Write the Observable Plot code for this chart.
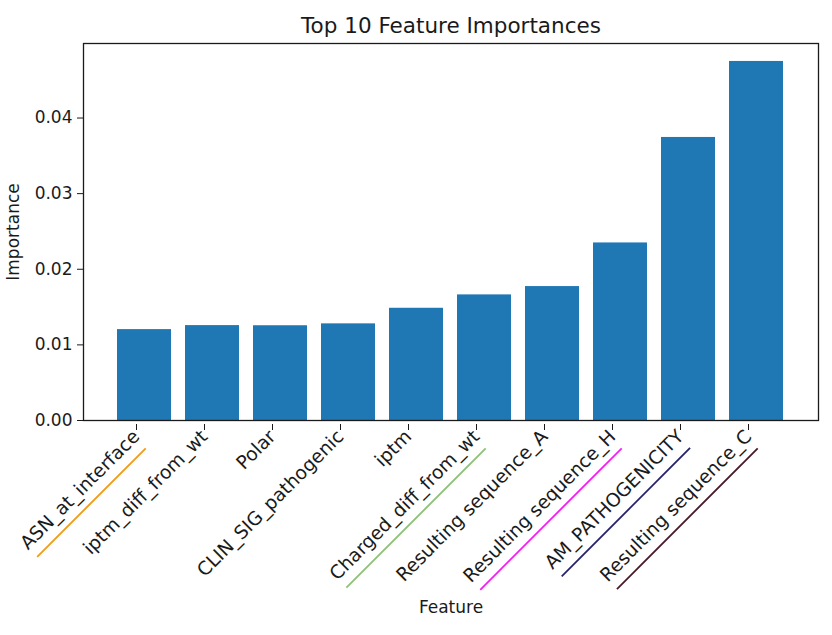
<!DOCTYPE html>
<html>
<head>
<meta charset="utf-8">
<script src="https://cdn.jsdelivr.net/npm/d3@7"></script>
<script src="https://cdn.jsdelivr.net/npm/@observablehq/plot@0.6"></script>
<style>
  html, body { margin: 0; padding: 0; background: #fff; }
</style>
</head>
<body>
<div id="chart"></div>
<script>
const features = [
  "ASN_at_interface",
  "iptm_diff_from_wt",
  "Polar",
  "CLIN_SIG_pathogenic",
  "iptm",
  "Charged_diff_from_wt",
  "Resulting sequence_A",
  "Resulting sequence_H",
  "AM_PATHOGENICITY",
  "Resulting sequence_C"
];
const importances = [0.01202, 0.01255, 0.01253, 0.01278, 0.01484, 0.01661, 0.01771, 0.02348, 0.03743, 0.04748];
const yTicks = [0, 0.01, 0.02, 0.03, 0.04];
const underlinedFeatures = ["ASN_at_interface", "Charged_diff_from_wt", "Resulting sequence_H", "AM_PATHOGENICITY", "Resulting sequence_C"];
const underlineColors = ["#f29a12", "#8cc176", "#f21ef2", "#25226e", "#461a28"];
const titleText = "Top 10 Feature Importances";

const data = features.map((f, i) => ({feature: f, importance: importances[i]}));
const yMax = d3.max(importances) * 1.05;

const chart = Plot.plot({
  width: 832,
  height: 635,
  marginLeft: 83,
  marginRight: 14,
  marginTop: 43,
  marginBottom: 215,
  style: {fontFamily: "'DejaVu Sans', sans-serif", fontSize: "17px", color: "#1a1a1a", background: "#fff"},
  x: {domain: features, paddingInner: 0.2, paddingOuter: 0.49},
  y: {domain: [0, yMax]},
  marks: [
    Plot.barY(data, {x: "feature", y: "importance", fill: "#1f77b4"}),
    Plot.frame({stroke: "#1a1a1a", strokeWidth: 1.3}),
    Plot.axisY({
      ticks: yTicks, tickFormat: d3.format(".2f"), tickSize: 6, tickPadding: 5,
      fontSize: 17,
      label: "Importance", labelAnchor: "center", labelArrow: "none", labelOffset: 77
    }),
    Plot.axisX({
      tickSize: 6, tickRotate: -45, fontSize: 18.7, tickPadding: 3, dx: -8, dy: 4,
      label: null
    }),
    Plot.text([titleText], {frameAnchor: "top", lineAnchor: "bottom", dy: -11, fontSize: 21.5, fill: "#1a1a1a"}),
    Plot.text(["Feature"], {frameAnchor: "bottom", lineAnchor: "bottom", dy: 192, fontSize: 17, fill: "#1a1a1a"})
  ]
});

document.getElementById("chart").appendChild(chart);

// underline selected tick labels, in each label's own rotated coordinate space
const ns = "http://www.w3.org/2000/svg";
chart.querySelectorAll('g[aria-label="x-axis tick label"] text').forEach((t) => {
  const idx = underlinedFeatures.indexOf(t.textContent);
  if (idx < 0) return;
  const bb = t.getBBox();
  const line = document.createElementNS(ns, "line");
  const y = bb.y + bb.height + 6;
  line.setAttribute("x1", bb.x + 2);
  line.setAttribute("x2", bb.x + bb.width - 4);
  line.setAttribute("y1", y);
  line.setAttribute("y2", y);
  line.setAttribute("stroke", underlineColors[idx]);
  line.setAttribute("stroke-width", 1.8);
  if (t.getAttribute("transform")) line.setAttribute("transform", t.getAttribute("transform"));
  t.parentNode.appendChild(line);
});
</script>
</body>
</html>
